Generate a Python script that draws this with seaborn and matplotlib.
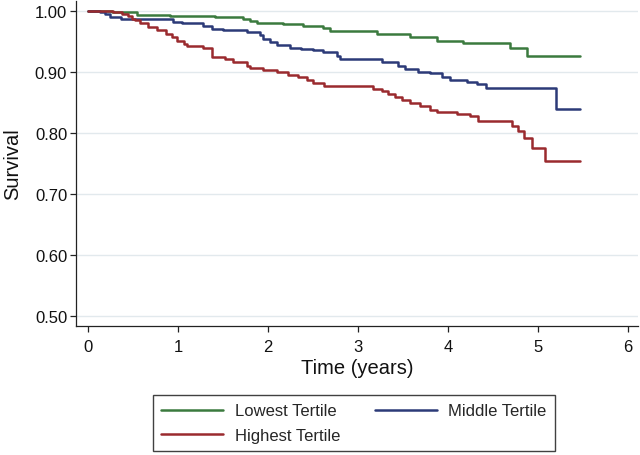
import matplotlib
matplotlib.use("Agg")
import matplotlib.pyplot as plt
import seaborn as sns
import pandas as pd
from matplotlib.lines import Line2D

# Kaplan-Meier step points (time in years, survival)
low_t = [0, 0.27, 0.54, 0.91, 1.41, 1.72, 1.80, 1.88, 2.17, 2.39, 2.61, 2.69, 3.21, 3.58, 3.88, 4.17, 4.69, 4.88, 5.46]
low_s = [1.0, 0.997, 0.993, 0.991, 0.989, 0.987, 0.983, 0.980, 0.978, 0.974, 0.971, 0.966, 0.961, 0.956, 0.951, 0.947, 0.939, 0.925, 0.925]

mid_t = [0, 0.13, 0.19, 0.24, 0.36, 0.94, 1.04, 1.28, 1.38, 1.50, 1.77, 1.91, 1.94, 2.02, 2.10, 2.24, 2.36, 2.50,
         2.61, 2.77, 2.80, 3.27, 3.44, 3.52, 3.66, 3.80, 3.93, 4.02, 4.21, 4.32, 4.42, 5.20, 5.46]
mid_s = [1.0, 0.997, 0.994, 0.990, 0.987, 0.982, 0.979, 0.975, 0.970, 0.968, 0.965, 0.960, 0.954, 0.949, 0.943, 0.939, 0.937, 0.935,
         0.932, 0.926, 0.920, 0.916, 0.910, 0.905, 0.900, 0.897, 0.891, 0.886, 0.883, 0.879, 0.873, 0.839, 0.839]

high_t = [0, 0.28, 0.38, 0.44, 0.49, 0.52, 0.58, 0.67, 0.77, 0.86, 0.93, 0.99, 1.06, 1.10, 1.28, 1.38, 1.52, 1.61,
          1.77, 1.80, 1.94, 2.10, 2.22, 2.33, 2.43, 2.50, 2.62, 3.16, 3.27, 3.33, 3.41, 3.49, 3.58, 3.69, 3.80, 3.88,
          4.10, 4.24, 4.33, 4.71, 4.78, 4.84, 4.93, 5.08, 5.46]
high_s = [1.0, 0.997, 0.995, 0.991, 0.987, 0.984, 0.979, 0.973, 0.968, 0.962, 0.957, 0.951, 0.946, 0.942, 0.938, 0.924, 0.921, 0.916,
          0.910, 0.906, 0.903, 0.900, 0.895, 0.891, 0.886, 0.882, 0.876, 0.872, 0.868, 0.863, 0.859, 0.854, 0.849, 0.844, 0.837, 0.834,
          0.831, 0.827, 0.820, 0.811, 0.803, 0.792, 0.775, 0.753, 0.753]

groups = ["Lowest Tertile", "Middle Tertile", "Highest Tertile"]
colors = {"Lowest Tertile": "#3b7a3e", "Middle Tertile": "#2c3a78", "Highest Tertile": "#9a2a2e"}

x_ticks = [0, 1, 2, 3, 4, 5, 6]
y_ticks = [0.50, 0.60, 0.70, 0.80, 0.90, 1.00]

frames = []
for g, t, s in zip(groups, [low_t, mid_t, high_t], [low_s, mid_s, high_s]):
    frames.append(pd.DataFrame({"time": t, "survival": s, "group": g}))
df = pd.concat(frames, ignore_index=True)

sns.set_theme(style="white")
plt.rcParams["font.family"] = ["Liberation Sans", "DejaVu Sans"]

fig = plt.figure(figsize=(6.4, 4.56), dpi=100)
ax = fig.add_axes([0.119, 0.283, 0.878, 0.713])

sns.lineplot(data=df, x="time", y="survival", hue="group", hue_order=groups,
             palette=colors, drawstyle="steps-post", estimator=None, linewidth=1.8,
             ax=ax, legend=False, zorder=3)

ax.set_xlim(-0.133, 6.11)
ax.set_ylim(0.4836, 1.016)
ax.set_xticks(x_ticks)
ax.set_xticklabels([str(v) for v in x_ticks])
ax.set_yticks(y_ticks)
ax.set_yticklabels([f"{v:.2f}" for v in y_ticks])
ax.grid(axis="y", color="#e2e9ed", linewidth=1.0, zorder=0)
ax.grid(axis="x", visible=False)

for side in ["top", "right"]:
    ax.spines[side].set_visible(False)
for side in ["left", "bottom"]:
    ax.spines[side].set_color("#222222")
    ax.spines[side].set_linewidth(0.9)

ax.tick_params(axis="both", which="major", length=4.5, width=0.9, color="#222222",
               labelsize=12, labelcolor="#111111", bottom=True, left=True)
ax.tick_params(axis="x", pad=5)
ax.tick_params(axis="y", pad=2)

ax.set_xlabel("Time (years)", fontsize=14.5, color="#111111", labelpad=3)
ax.set_ylabel("Survival", fontsize=14.5, color="#111111", labelpad=9)

handles = {g: Line2D([0], [0], color=colors[g], lw=1.8) for g in groups}
order = ["Lowest Tertile", "Highest Tertile", "Middle Tertile"]
leg = fig.legend([handles[g] for g in order], order, loc="center",
                 bbox_to_anchor=(0.553, 0.070), ncol=2, fontsize=12,
                 frameon=True, fancybox=False, edgecolor="#111111",
                 handlelength=3.7, columnspacing=2.1, handletextpad=0.7,
                 borderpad=0.5, labelspacing=0.55, borderaxespad=0)
leg.get_frame().set_linewidth(1.0)

fig.savefig("out.png", dpi=100)
